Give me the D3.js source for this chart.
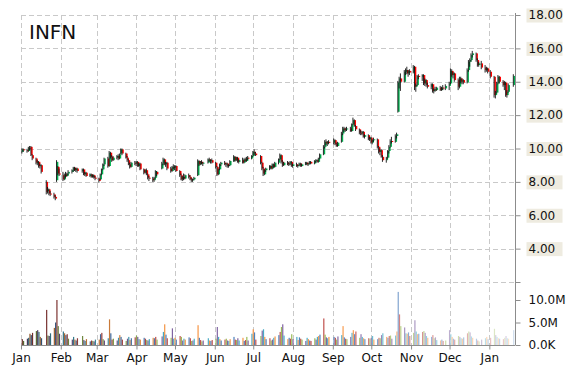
<!DOCTYPE html>
<html>
<head>
<meta charset="utf-8">
<script src="https://cdn.jsdelivr.net/npm/d3@7"></script>
<style>
  body { margin: 0; background: #fff; }
  svg { display: block; }
</style>
</head>
<body>
<div id="chart"></div>
<script>
// ticker shown top left
const ticker = "INFN";

// market holidays skipped when laying out the trading days
const holidays = [
  "2014-01-20", "2014-02-17", "2014-04-18", "2014-05-26", "2014-07-04",
  "2014-09-01", "2014-11-27", "2014-12-25", "2015-01-01", "2015-01-19",
];

// daily rows: [open, high, low, close, volume (millions)]
const jan14 = [
  [9.80, 10.02, 9.70, 9.95, 1.3], [9.95, 10.00, 9.80, 9.90, 0.9], [9.90, 9.98, 9.75, 9.85, 1.4],
  [9.85, 10.10, 9.80, 10.05, 1.6], [10.05, 10.15, 9.90, 10.00, 2.5], [10.10, 10.15, 9.55, 9.60, 2.2],
  [9.60, 9.65, 9.30, 9.40, 2.7], [9.40, 9.45, 9.05, 9.15, 3.1], [9.10, 9.30, 9.00, 9.20, 3.3],
  [9.20, 9.25, 8.85, 8.95, 2.9], [8.95, 9.10, 8.80, 9.00, 1.8], [9.00, 9.05, 8.50, 8.60, 1.5],
  [8.00, 8.10, 7.25, 7.40, 7.8], [7.45, 7.70, 7.30, 7.55, 2.1], [7.55, 7.60, 7.20, 7.30, 2.0],
  [7.30, 7.45, 7.15, 7.25, 2.6], [7.25, 7.35, 7.00, 7.10, 3.8], [7.10, 7.20, 6.90, 7.00, 5.0],
  [8.10, 9.30, 8.00, 9.20, 10.0], [8.90, 8.95, 8.40, 8.50, 4.2], [8.50, 8.80, 8.35, 8.45, 2.5],
];
const feb14 = [
  [8.40, 8.60, 8.05, 8.15, 3.0], [8.15, 8.50, 8.10, 8.45, 2.6], [8.45, 8.60, 8.25, 8.35, 2.2],
  [8.35, 8.55, 8.30, 8.50, 2.4], [8.50, 8.70, 8.40, 8.60, 1.4], [8.60, 8.75, 8.50, 8.70, 1.2],
  [8.70, 8.90, 8.60, 8.85, 1.8], [8.85, 8.90, 8.65, 8.70, 1.2], [8.70, 8.85, 8.60, 8.80, 1.0],
  [8.80, 8.85, 8.55, 8.65, 1.5], [8.65, 8.80, 8.55, 8.75, 2.0], [8.75, 8.80, 8.40, 8.45, 1.1],
  [8.45, 8.60, 8.35, 8.55, 0.9], [8.55, 8.60, 8.30, 8.35, 1.3], [8.35, 8.50, 8.30, 8.45, 0.8],
  [8.45, 8.50, 8.25, 8.30, 1.0], [8.30, 8.45, 8.25, 8.40, 0.9], [8.40, 8.45, 8.20, 8.25, 0.8],
  [8.25, 8.35, 8.10, 8.20, 1.2],
];
const mar14 = [
  [8.20, 8.25, 7.95, 8.05, 1.2], [8.15, 8.50, 8.10, 8.45, 2.4], [8.45, 8.80, 8.40, 8.75, 2.7],
  [8.75, 9.10, 8.70, 9.05, 1.3], [9.05, 9.45, 8.95, 9.40, 1.0], [9.40, 9.50, 8.85, 8.95, 1.5],
  [8.95, 9.85, 8.90, 9.75, 5.7], [9.75, 9.80, 9.40, 9.50, 2.6], [9.50, 9.60, 9.20, 9.30, 1.2],
  [9.30, 9.55, 9.25, 9.45, 1.4], [9.45, 9.60, 9.35, 9.55, 1.0], [9.55, 9.65, 9.30, 9.40, 1.6],
  [9.40, 9.70, 9.35, 9.65, 2.2], [9.70, 10.00, 9.65, 9.95, 1.8], [9.95, 10.00, 9.60, 9.70, 1.2],
  [9.70, 9.75, 9.40, 9.45, 0.9], [9.45, 9.55, 9.20, 9.30, 1.4], [9.30, 9.35, 9.00, 9.05, 1.8],
  [9.05, 9.15, 8.80, 8.90, 1.1], [8.90, 9.20, 8.85, 9.15, 1.5], [9.15, 9.25, 9.00, 9.10, 1.7],
];
const apr14 = [
  [9.10, 9.25, 8.95, 9.20, 2.1], [9.20, 9.25, 8.90, 8.95, 1.8], [8.95, 9.15, 8.90, 9.10, 1.3],
  [9.10, 9.15, 8.70, 8.75, 1.2], [8.75, 8.80, 8.45, 8.55, 1.6], [8.55, 8.75, 8.50, 8.70, 1.4],
  [8.70, 8.80, 8.40, 8.45, 1.1], [8.45, 8.50, 8.15, 8.25, 1.0], [8.25, 8.35, 8.05, 8.20, 1.3],
  [8.20, 8.30, 8.00, 8.10, 1.6], [8.10, 8.30, 8.00, 8.25, 1.5], [8.25, 8.70, 8.20, 8.65, 1.8],
  [8.60, 8.65, 8.35, 8.45, 1.2], [8.80, 9.20, 8.75, 9.10, 1.9], [9.10, 9.45, 9.00, 9.35, 2.9],
  [9.35, 9.40, 9.00, 9.05, 4.6], [9.05, 9.20, 8.90, 9.15, 2.3], [9.15, 9.20, 8.70, 8.80, 1.5],
  [8.80, 8.90, 8.55, 8.65, 1.6], [8.65, 8.95, 8.60, 8.90, 3.7], [8.90, 9.05, 8.75, 8.85, 1.4],
];
const may14 = [
  [8.85, 9.00, 8.70, 8.95, 1.6], [8.95, 9.00, 8.60, 8.65, 1.2], [8.65, 8.70, 8.30, 8.40, 2.0],
  [8.40, 8.50, 8.10, 8.15, 1.8], [8.15, 8.35, 8.05, 8.30, 1.0], [8.30, 8.50, 8.10, 8.20, 1.4],
  [8.20, 8.45, 8.15, 8.40, 1.2], [8.40, 8.50, 8.20, 8.30, 1.7], [8.30, 8.40, 8.10, 8.15, 1.5],
  [8.15, 8.25, 8.00, 8.10, 0.9], [8.10, 8.20, 8.00, 8.15, 1.0], [8.15, 8.30, 8.10, 8.25, 1.4],
  [8.40, 9.35, 8.35, 9.25, 4.4], [9.25, 9.30, 8.95, 9.05, 1.6], [9.05, 9.25, 9.00, 9.20, 1.1],
  [9.20, 9.30, 9.05, 9.10, 0.8], [9.10, 9.20, 8.95, 9.15, 1.0], [9.15, 9.40, 9.10, 9.35, 1.5],
  [9.35, 9.45, 9.20, 9.25, 1.0], [9.25, 9.35, 9.10, 9.30, 0.9], [9.30, 9.40, 9.10, 9.15, 1.1],
];
const jun14 = [
  [9.15, 9.20, 8.80, 8.90, 1.4], [8.90, 8.95, 8.35, 8.45, 4.0], [8.45, 8.80, 8.40, 8.75, 1.8],
  [8.75, 9.10, 8.70, 9.05, 1.3], [9.05, 9.20, 8.95, 9.15, 1.0], [9.15, 9.25, 9.00, 9.05, 1.2],
  [9.05, 9.15, 8.90, 9.10, 1.4], [9.10, 9.15, 8.85, 8.95, 1.0], [8.95, 9.05, 8.85, 9.00, 0.9],
  [9.00, 9.30, 8.95, 9.25, 1.3], [9.25, 9.60, 9.20, 9.50, 1.8], [9.50, 9.55, 9.20, 9.30, 1.2],
  [9.30, 9.50, 9.25, 9.45, 1.1], [9.45, 9.50, 9.15, 9.20, 1.5], [9.20, 9.35, 9.10, 9.30, 1.0],
  [9.30, 9.45, 9.10, 9.15, 1.6], [9.15, 9.40, 9.10, 9.35, 0.9], [9.35, 9.45, 9.20, 9.25, 1.1],
  [9.25, 9.50, 9.20, 9.45, 1.8], [9.45, 9.55, 9.30, 9.40, 1.0], [9.40, 9.60, 9.35, 9.55, 2.5],
];
const jul14 = [
  [9.55, 9.85, 9.50, 9.80, 3.5], [9.80, 9.95, 9.60, 9.70, 2.8], [9.70, 9.80, 9.55, 9.60, 1.2],
  [9.55, 9.60, 9.05, 9.15, 2.0], [9.15, 9.20, 8.70, 8.80, 3.2], [8.80, 8.90, 8.35, 8.50, 3.5],
  [8.45, 8.75, 8.40, 8.70, 1.8], [8.70, 8.85, 8.60, 8.80, 1.3], [8.80, 9.00, 8.70, 8.95, 1.5],
  [8.95, 9.00, 8.75, 8.80, 1.0], [8.80, 9.10, 8.75, 9.05, 1.2], [9.05, 9.10, 8.85, 8.90, 1.6],
  [8.90, 9.20, 8.85, 9.15, 1.9], [9.15, 9.40, 9.05, 9.35, 2.2], [9.35, 9.70, 9.30, 9.60, 2.9],
  [9.60, 9.65, 9.10, 9.20, 4.0], [9.20, 9.30, 8.90, 9.00, 4.6], [9.00, 9.20, 8.95, 9.15, 2.1],
  [9.15, 9.25, 9.00, 9.05, 1.3], [9.05, 9.20, 8.95, 9.10, 1.6], [9.10, 9.25, 9.00, 9.20, 1.4],
  [9.20, 9.25, 8.90, 8.95, 2.4],
];
const aug14 = [
  [8.95, 9.10, 8.85, 9.05, 1.3], [9.05, 9.15, 8.90, 8.95, 1.8], [8.95, 9.05, 8.85, 9.00, 1.1],
  [9.00, 9.15, 8.95, 9.10, 1.7], [9.10, 9.15, 8.90, 8.95, 1.4], [8.95, 9.10, 8.90, 9.05, 1.2],
  [9.05, 9.20, 9.00, 9.15, 0.9], [9.15, 9.20, 9.00, 9.05, 1.6], [9.05, 9.15, 8.95, 9.10, 1.3],
  [9.10, 9.25, 9.05, 9.20, 1.0], [9.20, 9.25, 9.05, 9.10, 0.9], [9.10, 9.30, 9.05, 9.25, 1.5],
  [9.25, 9.35, 9.15, 9.30, 1.2], [9.30, 9.35, 9.15, 9.20, 1.8], [9.20, 9.45, 9.15, 9.40, 2.0],
  [9.40, 9.70, 9.35, 9.65, 2.3], [9.65, 10.20, 9.60, 10.10, 5.9], [10.10, 10.50, 10.00, 10.40, 2.3],
  [10.40, 10.55, 10.20, 10.30, 1.7], [10.30, 10.45, 10.15, 10.40, 1.5], [10.40, 10.50, 10.25, 10.35, 1.8],
];
const sep14 = [
  [10.35, 10.60, 10.25, 10.50, 1.8], [10.50, 10.55, 10.20, 10.25, 1.6], [10.25, 10.35, 10.10, 10.15, 1.2],
  [10.15, 10.40, 10.10, 10.35, 1.9], [10.40, 11.00, 10.35, 10.90, 2.2], [10.90, 11.30, 10.80, 11.20, 4.2],
  [11.20, 11.30, 11.00, 11.10, 1.7], [11.10, 11.25, 11.00, 11.15, 1.4], [11.15, 11.30, 11.05, 11.20, 1.3],
  [11.20, 11.30, 11.00, 11.05, 1.8], [11.05, 11.50, 11.00, 11.45, 2.7], [11.45, 11.85, 11.40, 11.70, 3.3],
  [11.70, 11.75, 11.30, 11.35, 2.4], [11.35, 11.40, 11.05, 11.15, 3.0], [11.15, 11.20, 10.85, 10.95, 1.6],
  [10.95, 11.10, 10.80, 10.90, 2.4], [10.90, 11.05, 10.80, 11.00, 1.8], [11.00, 11.05, 10.65, 10.70, 1.5],
  [10.70, 10.85, 10.60, 10.80, 1.3], [10.80, 10.85, 10.50, 10.55, 1.5], [10.55, 10.70, 10.45, 10.65, 1.4],
];
const oct14 = [
  [10.65, 10.70, 10.30, 10.35, 1.6], [10.35, 10.55, 10.25, 10.50, 2.0], [10.50, 10.65, 10.40, 10.55, 1.2],
  [10.55, 10.60, 10.00, 10.10, 1.3], [10.10, 10.15, 9.70, 9.80, 1.6], [9.80, 10.00, 9.60, 9.90, 1.5],
  [9.90, 9.95, 9.45, 9.50, 2.2], [9.50, 9.60, 9.20, 9.30, 2.6], [9.30, 9.50, 9.15, 9.45, 1.8],
  [9.45, 9.90, 9.40, 9.85, 1.6], [9.85, 10.20, 9.70, 10.10, 2.0], [10.10, 10.55, 10.05, 10.45, 2.1],
  [10.45, 10.70, 10.30, 10.40, 1.4], [10.40, 10.85, 10.35, 10.75, 2.1], [10.75, 10.95, 10.60, 10.85, 3.0],
  [12.20, 14.05, 12.15, 13.95, 11.8], [13.95, 14.30, 13.60, 14.20, 6.8], [14.20, 14.50, 13.45, 14.00, 4.2],
  [14.00, 14.70, 13.95, 14.60, 3.9], [14.60, 14.80, 14.40, 14.70, 2.6], [14.70, 14.90, 14.45, 14.50, 2.5],
  [14.50, 14.70, 14.30, 14.65, 2.8], [14.65, 14.75, 14.40, 14.55, 2.0],
];
const nov14 = [
  [14.55, 15.00, 14.50, 14.90, 2.7], [14.90, 14.95, 13.50, 13.70, 5.5], [13.70, 13.90, 13.40, 13.80, 3.0],
  [13.80, 14.40, 13.75, 14.35, 2.4], [14.35, 14.45, 14.15, 14.30, 2.5], [14.30, 14.45, 14.05, 14.40, 2.9],
  [14.40, 14.45, 13.80, 13.90, 3.1], [13.90, 14.20, 13.75, 14.10, 2.7], [14.10, 14.15, 13.70, 13.80, 2.0],
  [13.80, 13.95, 13.60, 13.70, 1.6], [13.70, 13.90, 13.55, 13.85, 1.8], [13.85, 13.90, 13.35, 13.45, 2.2],
  [13.45, 13.60, 13.30, 13.55, 1.5], [13.55, 13.70, 13.40, 13.50, 1.7], [13.50, 13.70, 13.45, 13.65, 1.1],
  [13.65, 13.75, 13.45, 13.50, 1.0], [13.50, 13.70, 13.45, 13.65, 1.2], [13.65, 13.80, 13.50, 13.60, 0.9],
  [13.60, 13.85, 13.50, 13.75, 1.0],
];
const dec14 = [
  [13.75, 14.00, 13.50, 13.90, 3.3], [13.90, 14.80, 13.85, 14.65, 2.4], [14.65, 14.75, 14.30, 14.40, 1.8],
  [14.40, 14.60, 14.20, 14.50, 1.4], [14.50, 14.55, 14.00, 14.10, 1.2], [14.10, 14.20, 13.50, 13.70, 2.0],
  [13.70, 14.30, 13.60, 14.20, 1.8], [14.20, 14.30, 13.90, 14.00, 1.5], [14.00, 14.20, 13.85, 14.10, 1.4],
  [14.10, 14.15, 13.85, 13.95, 1.7], [13.95, 14.80, 13.90, 14.70, 2.6], [14.70, 15.30, 14.60, 15.20, 3.0],
  [15.20, 15.40, 14.90, 15.30, 2.8], [15.30, 15.70, 15.20, 15.60, 1.9], [15.60, 15.85, 15.45, 15.70, 1.6],
  [15.70, 15.75, 15.20, 15.30, 1.4], [15.30, 15.40, 14.90, 15.00, 1.0], [15.00, 15.20, 14.90, 15.10, 0.8],
  [15.10, 15.25, 14.75, 14.85, 1.2], [14.85, 15.00, 14.55, 14.70, 1.5], [14.70, 14.90, 14.60, 14.80, 1.8],
  [14.80, 14.85, 14.50, 14.60, 1.3],
];
const jan15 = [
  [14.60, 14.70, 14.20, 14.30, 1.6], [14.30, 14.35, 13.05, 13.20, 3.6], [13.20, 13.45, 13.00, 13.35, 2.2],
  [13.35, 14.00, 13.30, 13.90, 1.8], [13.90, 14.40, 13.85, 14.30, 1.5], [14.30, 14.35, 13.90, 14.00, 1.4],
  [14.00, 14.10, 13.70, 13.80, 1.3], [13.80, 14.05, 13.50, 13.95, 1.6], [13.95, 14.00, 13.10, 13.20, 2.0],
  [13.20, 13.50, 13.05, 13.40, 1.5], [13.40, 13.90, 13.35, 13.80, 1.4], [13.80, 14.45, 13.70, 14.35, 3.3],
];

// axis ticks
const priceGrid = [2, 4, 6, 8, 10, 12, 14, 16, 18];
const volumeTicks = [0, 5e6, 10e6];
const volumeLabels = ["0.0K", "5.0M", "10.0M"];

function chart({
  width = 570,
  height = 370,
  plotLeft = 21,
  plotRight = 515,
  plotTop = 15,
  priceBottom = 282,
  volumeBottom = 345,
  volumeTop = 300,
  fontFamily = "DejaVu Sans, Verdana, sans-serif",
  fontSize = 12,
  gridColor = "#c9c9c9",
  axisColor = "#8c8c8c",
  upColor = "#00b050",
  downColor = "#ff0000",
  labelBg = "#eeebe0",
  palette = ["#4f81bd", "#c0504d", "#9bbb59", "#8064a2", "#4bacc6", "#f79646"],
  paletteOffset = 1,
} = {}) {
  // lay the rows on trading days
  const rows = [].concat(jan14, feb14, mar14, apr14, may14, jun14, jul14, aug14, sep14, oct14, nov14, dec14, jan15);
  const skip = new Set(holidays);
  const fmt = d3.timeFormat("%Y-%m-%d");
  const data = [];
  let day = new Date(2014, 0, 2);
  while (data.length < rows.length) {
    const wd = day.getDay();
    if (wd !== 0 && wd !== 6 && !skip.has(fmt(day))) {
      const [open, high, low, close, vol] = rows[data.length];
      data.push({ date: new Date(day), open, high, low, close, volume: vol * 1e6 });
    }
    day = d3.timeDay.offset(day, 1);
  }

  // scales
  const xScale = d3.scaleTime()
    .domain([new Date(2014, 0, 1), new Date(2015, 0, 21)])
    .range([plotLeft, plotRight]);
  const yScale = d3.scaleLinear().domain([2, 18]).range([priceBottom, plotTop]);
  const vScale = d3.scaleLinear().domain([0, 10e6]).range([volumeBottom, volumeTop]);

  // volume colours: darker early on, washed out towards the end
  const shade = d3.scaleLinear().domain([0, 0.3, 0.62, 1]).range([-0.45, 0, 0, 0.72]).clamp(true);
  function volColor(d, i) {
    const base = palette[(i + paletteOffset) % palette.length];
    const k = shade(i / (data.length - 1));
    return k < 0 ? d3.interpolateRgb(base, "#000")(-k) : d3.interpolateRgb(base, "#fff")(k);
  }

  const svg = d3.create("svg")
    .attr("width", width)
    .attr("height", height)
    .attr("viewBox", [0, 0, width, height])
    .attr("font-family", fontFamily);

  svg.append("rect").attr("width", width).attr("height", height).attr("fill", "#fff");

  const months = d3.timeMonth.range(new Date(2014, 0, 1), new Date(2015, 0, 2));

  // grid
  const grid = svg.append("g")
    .attr("stroke", gridColor)
    .attr("stroke-dasharray", "5,3")
    .attr("shape-rendering", "crispEdges");
  grid.selectAll("line.h")
    .data(priceGrid)
    .join("line")
    .attr("class", "h")
    .attr("x1", plotLeft)
    .attr("x2", plotRight)
    .attr("y1", (d) => Math.round(yScale(d)) + 0.5)
    .attr("y2", (d) => Math.round(yScale(d)) + 0.5);
  grid.selectAll("line.v")
    .data(months)
    .join("line")
    .attr("class", "v")
    .attr("x1", (d) => Math.round(xScale(d)) + 0.5)
    .attr("x2", (d) => Math.round(xScale(d)) + 0.5)
    .attr("y1", plotTop)
    .attr("y2", volumeBottom);

  // volume bars
  svg.append("g")
    .selectAll("rect")
    .data(data)
    .join("rect")
    .attr("x", (d) => xScale(d.date) - 0.6)
    .attr("width", 1.2)
    .attr("y", (d) => vScale(d.volume))
    .attr("height", (d) => volumeBottom - vScale(d.volume))
    .attr("fill", volColor);

  // candles
  const candle = svg.append("g")
    .selectAll("g")
    .data(data)
    .join("g");
  candle.append("rect")
    .attr("x", (d) => xScale(d.date) - 0.2)
    .attr("width", 1.6)
    .attr("y", (d) => yScale(Math.max(d.open, d.close)))
    .attr("height", (d) => Math.max(1, Math.abs(yScale(d.open) - yScale(d.close))))
    .attr("fill", (d) => (d.close >= d.open ? upColor : downColor));
  candle.append("line")
    .attr("x1", (d) => xScale(d.date) - 0.4)
    .attr("x2", (d) => xScale(d.date) - 0.4)
    .attr("y1", (d) => yScale(d.high))
    .attr("y2", (d) => yScale(d.low))
    .attr("stroke", "#111")
    .attr("stroke-width", 0.9);

  // right axis line
  svg.append("line")
    .attr("x1", plotRight + 0.5)
    .attr("x2", plotRight + 0.5)
    .attr("y1", plotTop - 2)
    .attr("y2", volumeBottom)
    .attr("stroke", axisColor);

  // price axis
  const priceAxis = d3.axisRight(yScale)
    .tickValues(priceGrid)
    .tickSize(5)
    .tickPadding(8)
    .tickFormat((d) => (d < 4 ? "" : d3.format(".2f")(d)));
  svg.append("g")
    .attr("transform", `translate(${plotRight + 0.5},0)`)
    .call(priceAxis)
    .call((g) => g.select(".domain").remove())
    .call((g) => g.selectAll(".tick line").attr("stroke", axisColor))
    .call((g) =>
      g.selectAll(".tick")
        .filter((d) => d >= 4)
        .insert("rect", "text")
        .attr("x", 11)
        .attr("y", -7)
        .attr("width", 36)
        .attr("height", 14)
        .attr("fill", labelBg)
    )
    .call((g) =>
      g.selectAll(".tick text")
        .attr("font-family", fontFamily)
        .attr("font-size", fontSize)
        .attr("fill", "#111")
    );

  // volume axis
  const volumeAxis = d3.axisRight(vScale)
    .tickValues(volumeTicks)
    .tickSize(5)
    .tickPadding(8)
    .tickFormat((d, i) => volumeLabels[i]);
  svg.append("g")
    .attr("transform", `translate(${plotRight + 0.5},0)`)
    .call(volumeAxis)
    .call((g) => g.select(".domain").remove())
    .call((g) => g.selectAll(".tick line").attr("stroke", axisColor))
    .call((g) =>
      g.selectAll(".tick text")
        .attr("font-family", fontFamily)
        .attr("font-size", fontSize)
        .attr("fill", "#111")
    );

  // bottom axis
  const xAxis = d3.axisBottom(xScale)
    .tickValues(months)
    .tickSize(4)
    .tickPadding(4)
    .tickFormat(d3.timeFormat("%b"));
  svg.append("g")
    .attr("transform", `translate(0,${volumeBottom + 0.5})`)
    .call(xAxis)
    .call((g) => g.select(".domain").attr("stroke", axisColor).attr("d", `M${plotLeft},0H${plotRight}`))
    .call((g) => g.selectAll(".tick line").attr("stroke", axisColor))
    .call((g) =>
      g.selectAll(".tick text")
        .attr("font-family", fontFamily)
        .attr("font-size", fontSize)
        .attr("fill", "#111")
    );

  // ticker title
  svg.append("text")
    .attr("x", 29)
    .attr("y", 39)
    .attr("font-size", 20)
    .attr("fill", "#111")
    .text(ticker);

  return svg.node();
}

document.getElementById("chart").appendChild(chart());
</script>
</body>
</html>
